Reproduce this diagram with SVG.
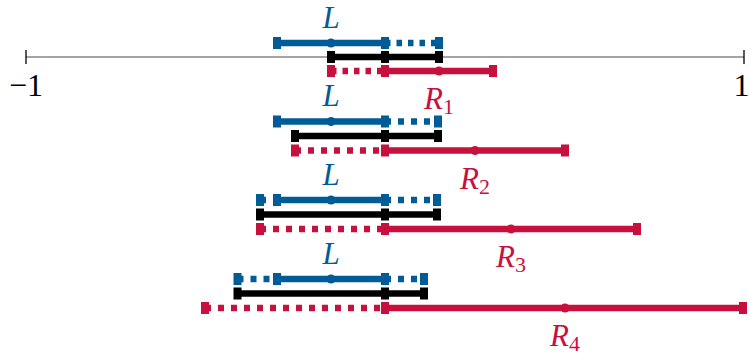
<svg xmlns="http://www.w3.org/2000/svg" xmlns:xlink="http://www.w3.org/1999/xlink" width="750" height="356" viewBox="0 0 750 356">
<style>
.ax{stroke:#4d4d4d;stroke-width:1.2;fill:none}
.tk{stroke:#000;stroke-width:1.3}
.ln{stroke-width:6.5;fill:none}
.bl{stroke:#005c97}
.bk{stroke:#000}
.rd{stroke:#c8103e}
.d{stroke-dasharray:6 7}
.d1{stroke-dasharray:5.5 6}
.num{font-family:"Liberation Serif","DejaVu Serif",serif;font-size:32px;fill:#000}
.lab{font-family:"Liberation Serif","DejaVu Serif",serif;font-size:31px;font-style:italic}
.sub{font-style:normal;font-size:22px}
.lb{fill:#005c97}
.lr{fill:#c8103e}
</style>
<defs>
<rect id="cB" x="-4" y="-6" width="8" height="12" fill="#005c97"/>
<rect id="cK" x="-4" y="-6" width="8" height="12" fill="#000"/>
<rect id="cR" x="-4" y="-6" width="8" height="12" fill="#c8103e"/>
<circle id="oB" r="4.5" fill="#005c97"/>
<circle id="oR" r="4.5" fill="#c8103e"/>
</defs>

<g id="axis">
<line class="ax" x1="26" y1="57" x2="744" y2="57"/>
<line class="tk" x1="26" y1="50" x2="26" y2="64"/>
<line class="tk" x1="744" y1="50" x2="744" y2="64"/>
<text class="num" x="26" y="96" text-anchor="middle">−1</text>
<text class="num" x="749.5" y="96" text-anchor="end">1</text>
</g>

<g id="connectors">
<!-- row 1 -->
<line class="ln bl" x1="277" y1="43" x2="385" y2="43"/>
<line class="ln bl d1" x1="385" y1="43" x2="439" y2="43"/>
<line class="ln bk" x1="331" y1="57" x2="439" y2="57"/>
<line class="ln rd d1" x1="331" y1="71" x2="385" y2="71"/>
<line class="ln rd" x1="385" y1="71" x2="493" y2="71"/>
<!-- row 2 -->
<line class="ln bl" x1="277" y1="121.5" x2="385" y2="121.5"/>
<line class="ln bl d" x1="385" y1="121.5" x2="438" y2="121.5"/>
<line class="ln bk" x1="295" y1="136" x2="438" y2="136"/>
<line class="ln rd d" x1="295" y1="150.5" x2="385" y2="150.5"/>
<line class="ln rd" x1="385" y1="150.5" x2="565" y2="150.5"/>
<!-- row 3 -->
<line class="ln bl d" x1="260" y1="200" x2="277" y2="200"/>
<line class="ln bl" x1="277" y1="200" x2="385" y2="200"/>
<line class="ln bl d" x1="385" y1="200" x2="437" y2="200"/>
<line class="ln bk" x1="260" y1="214.5" x2="437" y2="214.5"/>
<line class="ln rd d" x1="260" y1="229" x2="385" y2="229"/>
<line class="ln rd" x1="385" y1="229" x2="637" y2="229"/>
<!-- row 4 -->
<line class="ln bl d" x1="237.5" y1="279" x2="277" y2="279"/>
<line class="ln bl" x1="277" y1="279" x2="385" y2="279"/>
<line class="ln bl d" x1="385" y1="279" x2="424" y2="279"/>
<line class="ln bk" x1="237.5" y1="293.5" x2="424" y2="293.5"/>
<line class="ln rd d" x1="205" y1="308" x2="385" y2="308"/>
<line class="ln rd" x1="385" y1="308" x2="744" y2="308"/>
</g>

<g id="row1">
<use xlink:href="#cB" x="277" y="43"/><use xlink:href="#oB" x="331" y="43"/><use xlink:href="#cB" x="385" y="43"/><use xlink:href="#cB" x="439" y="43"/>
<use xlink:href="#cK" x="331" y="57"/><use xlink:href="#cK" x="385" y="57"/><use xlink:href="#cK" x="439" y="57"/>
<use xlink:href="#cR" x="331" y="71"/><use xlink:href="#cR" x="385" y="71"/><use xlink:href="#oR" x="439" y="71"/><use xlink:href="#cR" x="493" y="71"/>
<text class="lab lb" x="331" y="28" text-anchor="middle">L</text>
<text class="lab lr" x="439" y="109" text-anchor="middle">R<tspan class="sub" dy="5">1</tspan></text>
</g>

<g id="row2">
<use xlink:href="#cB" x="277" y="121.5"/><use xlink:href="#oB" x="331" y="121.5"/><use xlink:href="#cB" x="385" y="121.5"/><use xlink:href="#cB" x="438" y="121.5"/>
<use xlink:href="#cK" x="295" y="136"/><use xlink:href="#cK" x="385" y="136"/><use xlink:href="#cK" x="438" y="136"/>
<use xlink:href="#cR" x="295" y="150.5"/><use xlink:href="#cR" x="385" y="150.5"/><use xlink:href="#oR" x="475" y="150.5"/><use xlink:href="#cR" x="565" y="150.5"/>
<text class="lab lb" x="331" y="106" text-anchor="middle">L</text>
<text class="lab lr" x="475" y="188.5" text-anchor="middle">R<tspan class="sub" dy="5">2</tspan></text>
</g>

<g id="row3">
<use xlink:href="#cB" x="260" y="200"/><use xlink:href="#cB" x="277" y="200"/><use xlink:href="#oB" x="331" y="200"/><use xlink:href="#cB" x="385" y="200"/><use xlink:href="#cB" x="437" y="200"/>
<use xlink:href="#cK" x="260" y="214.5"/><use xlink:href="#cK" x="385" y="214.5"/><use xlink:href="#cK" x="437" y="214.5"/>
<use xlink:href="#cR" x="260" y="229"/><use xlink:href="#cR" x="385" y="229"/><use xlink:href="#oR" x="511" y="229"/><use xlink:href="#cR" x="637" y="229"/>
<text class="lab lb" x="331" y="184.5" text-anchor="middle">L</text>
<text class="lab lr" x="511" y="267" text-anchor="middle">R<tspan class="sub" dy="5">3</tspan></text>
</g>

<g id="row4">
<use xlink:href="#cB" x="237.5" y="279"/><use xlink:href="#cB" x="277" y="279"/><use xlink:href="#oB" x="331" y="279"/><use xlink:href="#cB" x="385" y="279"/><use xlink:href="#cB" x="424" y="279"/>
<use xlink:href="#cK" x="237.5" y="293.5"/><use xlink:href="#cK" x="385" y="293.5"/><use xlink:href="#cK" x="424" y="293.5"/>
<use xlink:href="#cR" x="205" y="308"/><use xlink:href="#cR" x="385" y="308"/><use xlink:href="#oR" x="565" y="308"/><use xlink:href="#cR" x="743" y="308"/>
<text class="lab lb" x="331" y="263.5" text-anchor="middle">L</text>
<text class="lab lr" x="565" y="346" text-anchor="middle">R<tspan class="sub" dy="5">4</tspan></text>
</g>
</svg>
